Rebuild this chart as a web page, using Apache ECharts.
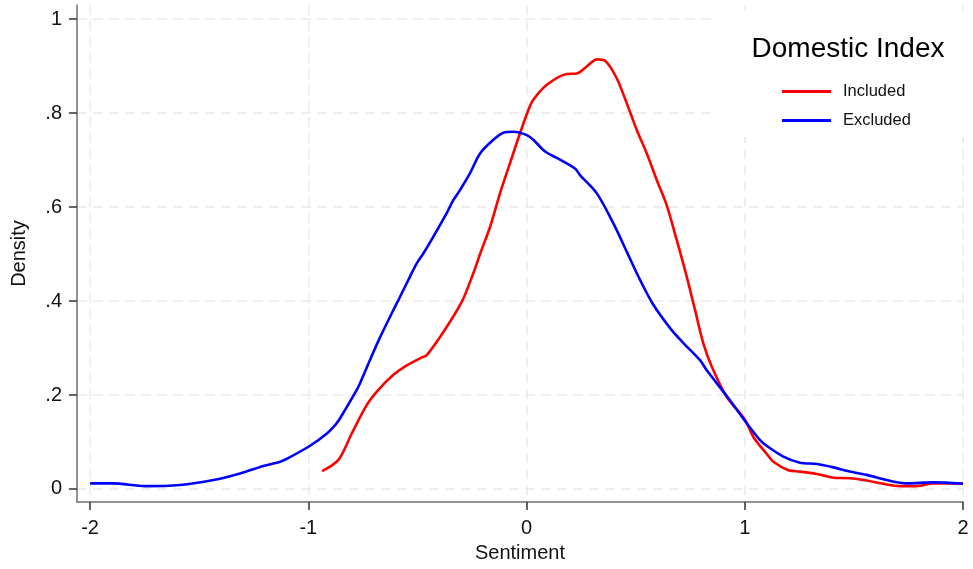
<!DOCTYPE html>
<html>
<head>
<meta charset="utf-8">
<script src="https://cdn.jsdelivr.net/npm/echarts@6/dist/echarts.min.js"></script>
<style>
  html, body { margin: 0; padding: 0; background: #fff; }
  #chart { width: 973px; height: 569px; }
</style>
</head>
<body>
<div id="chart"></div>
<script>
// Sentiment (x) and density (y) for each series
const includedX = [-0.937, -0.862, -0.801, -0.732, -0.679, -0.610, -0.549, -0.480, -0.457, -0.381, -0.297, -0.244, -0.213, -0.167, -0.121, -0.076, -0.030, 0.008, 0.031, 0.093, 0.184, 0.230, 0.276, 0.322, 0.360, 0.413, 0.459, 0.505, 0.551, 0.597, 0.642, 0.688, 0.734, 0.772, 0.810, 0.849, 0.917, 1.000, 1.040, 1.100, 1.131, 1.200, 1.253, 1.330, 1.406, 1.482, 1.559, 1.635, 1.711, 1.788, 1.864, 2.000];
const includedY = [0.038, 0.062, 0.118, 0.179, 0.211, 0.243, 0.263, 0.280, 0.285, 0.334, 0.398, 0.459, 0.500, 0.558, 0.630, 0.693, 0.757, 0.806, 0.828, 0.860, 0.883, 0.884, 0.899, 0.914, 0.911, 0.874, 0.821, 0.764, 0.714, 0.657, 0.604, 0.530, 0.452, 0.381, 0.310, 0.260, 0.196, 0.148, 0.110, 0.075, 0.058, 0.040, 0.037, 0.032, 0.024, 0.023, 0.018, 0.011, 0.006, 0.006, 0.012, 0.012];

const excludedX = [-2.000, -1.893, -1.748, -1.588, -1.435, -1.313, -1.206, -1.129, -1.099, -0.992, -0.915, -0.870, -0.855, -0.778, -0.763, -0.680, -0.595, -0.587, -0.534, -0.503, -0.473, -0.427, -0.366, -0.335, -0.305, -0.259, -0.213, -0.152, -0.106, -0.060, 0.001, 0.031, 0.085, 0.153, 0.222, 0.245, 0.322, 0.398, 0.459, 0.520, 0.581, 0.665, 0.718, 0.795, 0.825, 0.925, 1.009, 1.070, 1.100, 1.177, 1.253, 1.330, 1.406, 1.482, 1.559, 1.650, 1.742, 1.864, 2.000];
const excludedY = [0.012, 0.012, 0.006, 0.0085, 0.019, 0.033, 0.049, 0.058, 0.064, 0.092, 0.118, 0.140, 0.150, 0.211, 0.225, 0.314, 0.395, 0.402, 0.452, 0.480, 0.501, 0.537, 0.587, 0.615, 0.636, 0.672, 0.714, 0.743, 0.758, 0.760, 0.753, 0.743, 0.718, 0.701, 0.682, 0.668, 0.629, 0.565, 0.505, 0.445, 0.392, 0.338, 0.311, 0.274, 0.253, 0.193, 0.140, 0.104, 0.092, 0.069, 0.056, 0.053, 0.046, 0.037, 0.030, 0.019, 0.012, 0.014, 0.011];

const seriesNames = ['Included', 'Excluded'];
const xTicks = [-2, -1, 0, 1, 2];
const yTicks = [0, 0.2, 0.4, 0.6, 0.8, 1];
const legendTitle = 'Domestic Index';
const xTitle = 'Sentiment';
const yTitle = 'Density';

const zip = (xs, ys) => xs.map((x, i) => [x, ys[i]]);
const fontFam = '"Liberation Sans", Arial, sans-serif';

const chart = echarts.init(document.getElementById('chart'), null, { renderer: 'canvas' });

const gridLine = { show: true, lineStyle: { color: '#e9e9e9', width: 1.5, type: [10, 6] } };

chart.setOption({
  backgroundColor: '#ffffff',
  animation: false,
  title: {
    text: legendTitle,
    left: 843, top: 30, textAlign: 'center',
    textStyle: { fontFamily: fontFam, fontSize: 28, fontWeight: 'normal', color: '#000' }
  },
  legend: {
    data: seriesNames,
    orient: 'vertical',
    left: 777, top: 78,
    itemWidth: 49, itemHeight: 3,
    itemGap: 12,
    icon: 'rect',
    textStyle: { fontFamily: fontFam, fontSize: 16.5, color: '#111', lineHeight: 17, padding: [0, 0, 0, 7] }
  },
  graphic: [{
    type: 'rect', z: 1,
    shape: { x: 717, y: 11, width: 252, height: 126 },
    style: { fill: '#ffffff' }
  }],
  grid: { left: 77, right: 10, top: 5, bottom: 67, containLabel: false },
  xAxis: {
    type: 'value',
    min: -2.06, max: 2,
    name: xTitle, nameLocation: 'middle', nameGap: 41,
    nameTextStyle: { fontFamily: fontFam, fontSize: 20, color: '#111' },
    axisLine: { show: true, onZero: false, lineStyle: { color: '#707070', width: 1.5 } },
    axisTick: { show: true, length: 8, customValues: xTicks, lineStyle: { color: '#333', width: 1.5 } },
    axisLabel: { customValues: xTicks, margin: 16, fontFamily: fontFam, fontSize: 20, color: '#111',
                 formatter: v => String(v) },
    splitLine: gridLine
  },
  yAxis: {
    type: 'value',
    min: -0.0277, max: 1.0298,
    name: yTitle, nameLocation: 'middle', nameGap: 48, nameRotate: 90,
    nameTextStyle: { fontFamily: fontFam, fontSize: 20, color: '#111' },
    axisLine: { show: true, onZero: false, lineStyle: { color: '#707070', width: 1.5 } },
    axisTick: { show: true, length: 8, customValues: yTicks, lineStyle: { color: '#333', width: 1.5 } },
    axisLabel: { customValues: yTicks, margin: 15, fontFamily: fontFam, fontSize: 20, color: '#111',
                 formatter: v => (v === 0 ? '0' : v === 1 ? '1' : String(Math.round(v * 10) / 10).replace(/^0/, '')) },
    splitLine: gridLine
  },
  series: [
    { name: seriesNames[0], type: 'line', data: zip(includedX, includedY), showSymbol: false, symbol: 'none',
      smooth: 0.3, color: '#ff0000', lineStyle: { color: '#ff0000', width: 2.6 } },
    { name: seriesNames[1], type: 'line', data: zip(excludedX, excludedY), showSymbol: false, symbol: 'none',
      smooth: 0.3, color: '#0000ff', lineStyle: { color: '#0000ff', width: 2.6 } }
  ]
});
</script>
</body>
</html>
